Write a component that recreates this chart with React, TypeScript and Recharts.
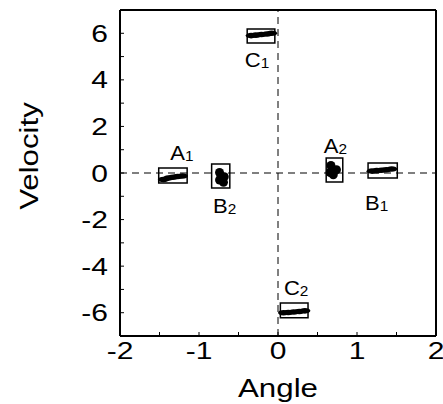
import React from 'react';
import { ScatterChart, Scatter, XAxis, YAxis, ReferenceLine, ReferenceArea } from 'recharts';

// axis ticks (minor every 0.5 / 1, labels only on majors)
const xTicks = [-2, -1.5, -1, -0.5, 0, 0.5, 1, 1.5, 2];
const xLabels = [-2, -1, 0, 1, 2];
const yTicks = [-7, -6, -5, -4, -3, -2, -1, 0, 1, 2, 3, 4, 5, 6, 7];
const yLabels = [-6, -4, -2, 0, 2, 4, 6];

// trajectories (angle, velocity)
const streakA1 = [
  { x: -1.45, y: -0.28 },
  { x: -1.39, y: -0.22 },
  { x: -1.33, y: -0.18 },
  { x: -1.27, y: -0.15 },
  { x: -1.21, y: -0.13 },
];
const streakB1 = [
  { x: 1.19, y: 0.08 },
  { x: 1.25, y: 0.1 },
  { x: 1.31, y: 0.12 },
  { x: 1.37, y: 0.14 },
  { x: 1.44, y: 0.17 },
];
const streakC1 = [
  { x: -0.34, y: 5.9 },
  { x: -0.28, y: 5.92 },
  { x: -0.21, y: 5.95 },
  { x: -0.14, y: 5.97 },
  { x: -0.08, y: 6.0 },
];
const streakC2 = [
  { x: 0.07, y: -6.0 },
  { x: 0.13, y: -5.99 },
  { x: 0.2, y: -5.97 },
  { x: 0.27, y: -5.95 },
  { x: 0.34, y: -5.92 },
];
const blobA2 = [
  { x: 0.67, y: 0.32 },
  { x: 0.68, y: 0.12 },
  { x: 0.7, y: -0.08 },
  { x: 0.74, y: 0.14 },
  { x: 0.66, y: 0.02 },
];
const blobB2 = [
  { x: -0.74, y: 0.02 },
  { x: -0.72, y: -0.14 },
  { x: -0.74, y: -0.3 },
  { x: -0.69, y: -0.4 },
  { x: -0.68, y: -0.16 },
];

// boxes around each cluster
const boxes = [
  { name: 'A', sub: '1', x1: -1.51, x2: -1.15, y1: -0.43, y2: 0.21 },
  { name: 'B', sub: '2', x1: -0.84, x2: -0.61, y1: -0.64, y2: 0.39 },
  { name: 'A', sub: '2', x1: 0.61, x2: 0.82, y1: -0.39, y2: 0.64 },
  { name: 'B', sub: '1', x1: 1.14, x2: 1.51, y1: -0.21, y2: 0.43 },
  { name: 'C', sub: '1', x1: -0.39, x2: -0.04, y1: 5.58, y2: 6.18 },
  { name: 'C', sub: '2', x1: 0.03, x2: 0.38, y1: -6.22, y2: -5.58 },
];

// where each box label sits (styling only)
const labelPlace = [
  { side: 'above', dx: 9, gap: 8 },
  { side: 'below', dx: 4, gap: 11 },
  { side: 'above', dx: 1, gap: 5 },
  { side: 'below', dx: -6, gap: 18 },
  { side: 'below', dx: -4, gap: 10 },
  { side: 'above', dx: 2, gap: 8 },
];

// anchor of each label: middle of the box edge it sits against
const labelAnchors = boxes.map((b, i) => ({
  x: (b.x1 + b.x2) / 2,
  y: labelPlace[i].side === 'above' ? b.y2 : b.y1,
  i,
}));

const FONT = '"Liberation Sans", Arial, Helvetica, sans-serif';

const XTick = (p: any) => {
  if (!xLabels.includes(p.payload.value)) return null;
  return (
    <text
      transform={`translate(${p.x},${p.y}) scale(1.25,1)`}
      textAnchor="middle"
      dy="0.72em"
      fontSize={24}
      fontFamily={FONT}
      fill="#000"
    >
      {p.payload.value}
    </text>
  );
};

const YTick = (p: any) => {
  if (!yLabels.includes(p.payload.value)) return null;
  return (
    <text
      transform={`translate(${p.x},${p.y}) scale(1.25,1)`}
      textAnchor="end"
      dy="0.36em"
      fontSize={24}
      fontFamily={FONT}
      fill="#000"
    >
      {p.payload.value}
    </text>
  );
};

const BoxText = (p: any) => {
  const i = p.payload.i;
  const b = boxes[i];
  const l = labelPlace[i];
  const cx = p.cx + l.dx;
  const ty = l.side === 'above' ? p.cy - l.gap : p.cy + l.gap + 14;
  return (
    <text
      transform={`translate(${cx},${ty}) scale(1.1,1)`}
      textAnchor="middle"
      fontSize={20}
      fontFamily={FONT}
      fill="#000"
    >
      {b.name}
      <tspan fontSize={14} dy={1}>{b.sub}</tspan>
    </text>
  );
};

// streak points drawn as short fat strokes, blobs as round dots
const dash = (p: any) => <ellipse cx={p.cx} cy={p.cy} rx={5.5} ry={2.8} fill="#000" />;
const dot = (p: any) => <circle cx={p.cx} cy={p.cy} r={4.5} fill="#000" />;

const titleStyle: React.CSSProperties = {
  position: 'absolute',
  fontFamily: FONT,
  fontSize: 25,
  lineHeight: '25px',
  color: '#000',
  whiteSpace: 'nowrap',
};

export default function App() {
  return (
    <div style={{ position: 'absolute', left: 0, top: 0, width: 443, height: 404 }}>
      <ScatterChart width={443} height={404} margin={{ top: 9, right: 6, bottom: 0, left: 0 }}>
        <XAxis
          xAxisId="b"
          type="number"
          dataKey="x"
          domain={[-2, 2]}
          allowDataOverflow
          ticks={xTicks}
          interval={0}
          height={68}
          tickSize={-4}
          tickMargin={10}
          tick={<XTick />}
          axisLine={{ stroke: '#000', strokeWidth: 2 }}
          tickLine={{ stroke: '#000' }}
        />
        <XAxis
          xAxisId="t"
          orientation="top"
          type="number"
          dataKey="x"
          domain={[-2, 2]}
          allowDataOverflow
          ticks={xTicks}
          interval={0}
          height={1}
          tickSize={-4}
          tick={false}
          axisLine={{ stroke: '#000', strokeWidth: 2 }}
          tickLine={{ stroke: '#000' }}
        />
        <YAxis
          yAxisId="l"
          type="number"
          dataKey="y"
          domain={[-7, 7]}
          allowDataOverflow
          ticks={yTicks}
          interval={0}
          width={120}
          tickSize={-4}
          tickMargin={16}
          tick={<YTick />}
          axisLine={{ stroke: '#000', strokeWidth: 2 }}
          tickLine={{ stroke: '#000' }}
        />
        <YAxis
          yAxisId="r"
          orientation="right"
          type="number"
          dataKey="y"
          domain={[-7, 7]}
          allowDataOverflow
          ticks={yTicks}
          interval={0}
          width={1}
          tickSize={-4}
          tick={false}
          axisLine={{ stroke: '#000', strokeWidth: 2 }}
          tickLine={{ stroke: '#000' }}
        />
        <ReferenceLine xAxisId="b" yAxisId="l" y={7} stroke="#000" strokeWidth={2} ifOverflow="visible" />
        <ReferenceLine xAxisId="b" yAxisId="l" x={2} stroke="#000" strokeWidth={2} ifOverflow="visible" />
        <ReferenceLine xAxisId="b" yAxisId="l" x={0} stroke="#000" strokeWidth={1} strokeDasharray="7 5" />
        <ReferenceLine xAxisId="b" yAxisId="l" y={0} stroke="#000" strokeWidth={1.2} strokeDasharray="7 5" />
        {boxes.map((b, i) => (
          <ReferenceArea
            key={i}
            xAxisId="b"
            yAxisId="l"
            x1={b.x1}
            x2={b.x2}
            y1={b.y1}
            y2={b.y2}
            fill="none"
            stroke="#000"
            strokeWidth={1.5}
          />
        ))}
        <Scatter xAxisId="t" yAxisId="r" data={blobA2} fill="#000" shape={dot} isAnimationActive={false} />
        {[streakA1, streakB1, streakC1, streakC2].map((s, i) => (
          <Scatter
            key={`s${i}`}
            xAxisId="b"
            yAxisId="l"
            data={s}
            fill="#000"
            shape={dash}
            isAnimationActive={false}
          />
        ))}
        <Scatter xAxisId="b" yAxisId="l" data={blobB2} fill="#000" shape={dot} isAnimationActive={false} />
        <Scatter xAxisId="b" yAxisId="l" data={labelAnchors} fill="#000" shape={BoxText} isAnimationActive={false} />
      </ScatterChart>
      <div style={{ ...titleStyle, left: 278, top: 376, transform: 'translateX(-50%) scaleX(1.25)' }}>Angle</div>
      <div
        style={{
          ...titleStyle,
          left: 29,
          top: 156,
          transform: 'translate(-50%, -50%) rotate(-90deg) scaleX(1.25)',
        }}
      >
        Velocity
      </div>
    </div>
  );
}
